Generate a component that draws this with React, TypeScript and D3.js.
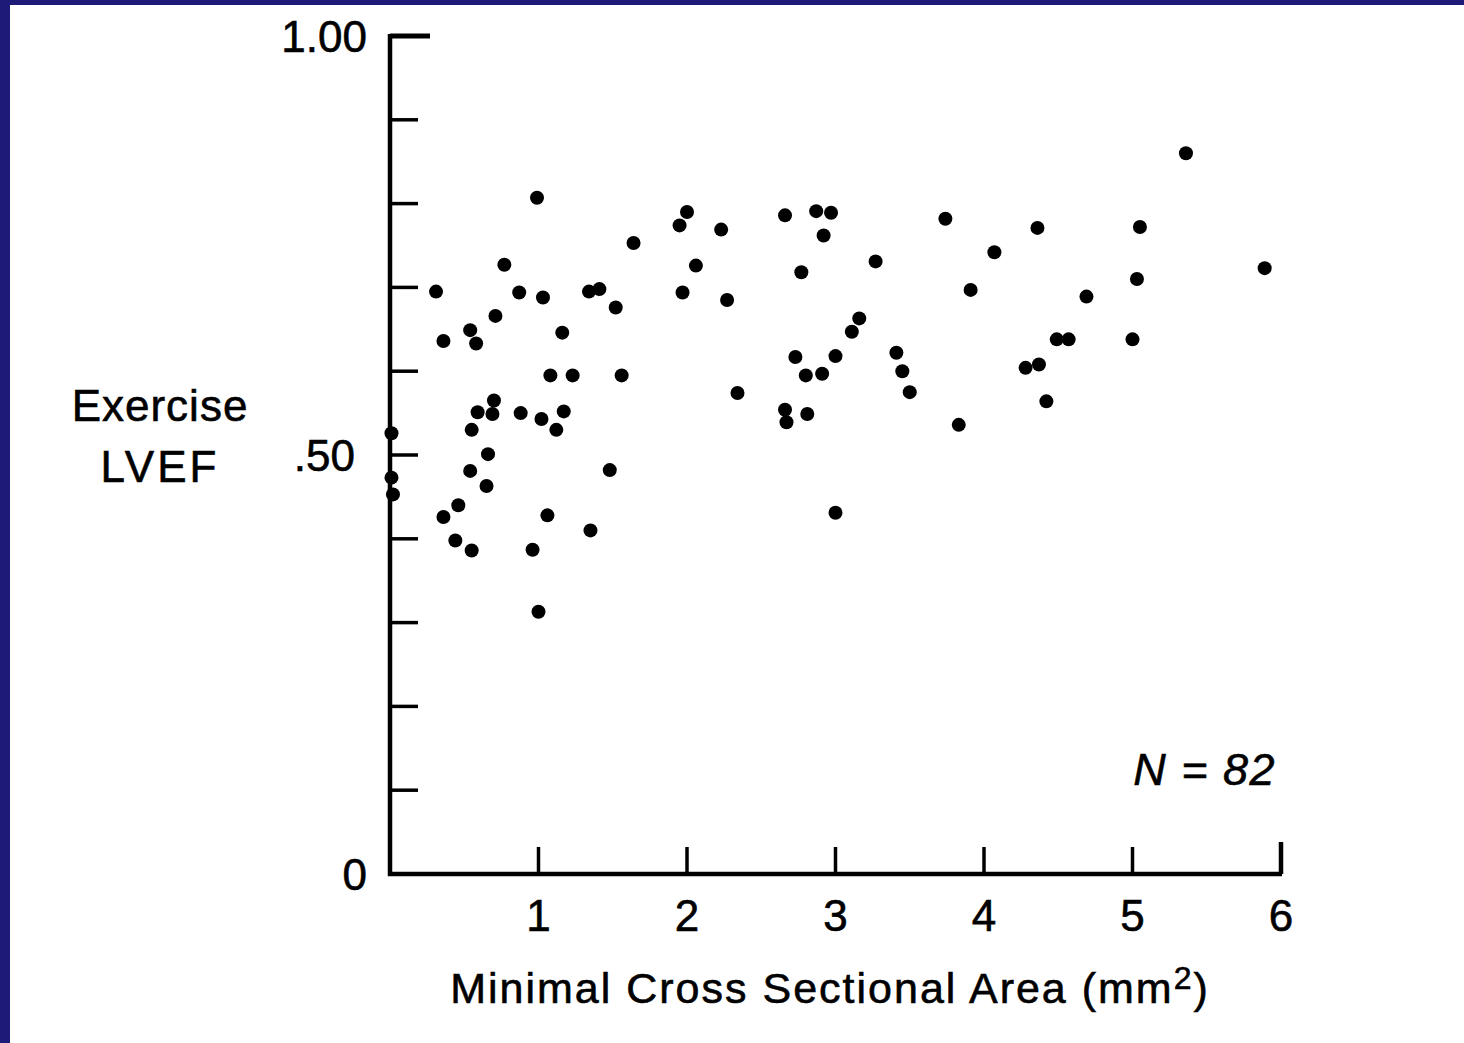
import React from 'react';
import * as d3 from 'd3';

// minimal cross sectional area (mm2) for each patient
const areaValues = [
  0.99, 1.64, 0.77, 0.31, 0.87, 1.03, 1.34, 1.41, 1.52, 0.71, 0.54, 0.36, 0.58, 1.16, 1.08, 1.23, 1.56,
  0.70, 0.59, 0.69, 0.88, 1.02, 1.17, 0.55, 1.12, 0.01, 0.66, 0.54, 1.48, 0.01, 0.65, 0.02, 0.46,
  0.36, 1.06, 1.35, 0.44, 0.55, 0.96, 1.00,
  2.00, 1.95, 2.23, 2.66, 2.87, 2.97, 2.92, 3.74, 2.06, 2.77, 3.27, 1.97, 2.27, 3.16, 3.11, 2.73,
  3.00, 3.41, 2.80, 2.91, 3.45, 2.34, 3.50, 2.66, 2.67, 2.81, 3.83, 3.00,
  5.36, 4.36, 5.05, 4.07, 5.89, 3.91, 5.03, 4.69, 4.49, 4.57, 5.00, 4.28, 4.37, 4.42,
];

// exercise LVEF, same order
const lvefValues = [
  0.807, 0.753, 0.727, 0.695, 0.694, 0.688, 0.695, 0.698, 0.676, 0.666, 0.649, 0.636, 0.633, 0.646, 0.595, 0.595, 0.595,
  0.565, 0.551, 0.549, 0.550, 0.543, 0.552, 0.530, 0.530, 0.526, 0.501, 0.481, 0.482, 0.473, 0.463, 0.453, 0.440,
  0.426, 0.428, 0.410, 0.398, 0.386, 0.387, 0.313,
  0.790, 0.774, 0.769, 0.786, 0.791, 0.789, 0.762, 0.782, 0.726, 0.718, 0.731, 0.694, 0.685, 0.663, 0.647, 0.617,
  0.618, 0.622, 0.595, 0.597, 0.600, 0.574, 0.575, 0.554, 0.539, 0.549, 0.536, 0.431,
  0.860, 0.771, 0.772, 0.742, 0.723, 0.697, 0.710, 0.689, 0.638, 0.638, 0.638, 0.604, 0.608, 0.564,
];

const xTicks = [1, 2, 3, 4, 5, 6];
const yTicks = [0.1, 0.2, 0.3, 0.4, 0.5, 0.6, 0.7, 0.8, 0.9, 1.0];
const yLabels = [
  { value: 0, text: '0' },
  { value: 0.5, text: '.50' },
  { value: 1.0, text: '1.00' },
];

const W = 1464;
const H = 1043;
const NAVY = '#1e1a78';
const FONT = '"Liberation Sans", Arial, Helvetica, sans-serif';

const App = () => {
  const x = d3.scaleLinear().domain([0, 6]).range([390, 1281]);
  const y = d3.scaleLinear().domain([0, 1]).range([874, 36]);

  const points = areaValues.map((a, i) => ({ a, v: lvefValues[i] }));

  return (
    <svg
      width={W}
      height={H}
      style={{ position: 'absolute', left: 0, top: 0, display: 'block' }}
      fontFamily={FONT}
    >
      {/* slide frame */}
      <rect x={0} y={0} width={W} height={H} fill={NAVY} />
      <rect x={10} y={5} width={W - 10} height={H - 5} fill="#fff" />

      {/* axes */}
      <line x1={x(0)} x2={x(0)} y1={y(1) - 2} y2={y(0) + 2} stroke="#000" strokeWidth={4.5} />
      <line x1={x(0) - 2} x2={x(6) + 1} y1={y(0)} y2={y(0)} stroke="#000" strokeWidth={4.5} />

      {yTicks.map(t => (
        <line
          key={'yt' + t}
          x1={x(0)}
          x2={x(0) + (t === 1 ? 40 : 28)}
          y1={y(t)}
          y2={y(t)}
          stroke="#000"
          strokeWidth={t === 1 ? 5 : 3.5}
        />
      ))}

      {xTicks.map(t => (
        <line
          key={'xt' + t}
          x1={x(t)}
          x2={x(t)}
          y1={y(0)}
          y2={y(0) - (t === 6 ? 32 : 27)}
          stroke="#000"
          strokeWidth={t === 6 ? 4.5 : 3.5}
        />
      ))}

      {/* tick labels (the .50 sits a little further left in the original) */}
      {yLabels.map(l => (
        <text
          key={'yl' + l.text}
          x={l.value === 0.5 ? 355 : 367}
          y={y(l.value)}
          dy="0.36em"
          textAnchor="end"
          fontSize={44}
          fill="#000"
          stroke="#000"
          strokeWidth={0.6}
        >
          {l.text}
        </text>
      ))}

      {xTicks.map(t => (
        <text
          key={'xl' + t}
          x={x(t)}
          y={931}
          textAnchor="middle"
          fontSize={44}
          fill="#000"
          stroke="#000"
          strokeWidth={0.6}
        >
          {t}
        </text>
      ))}

      {/* axis titles */}
      <g fill="#000" stroke="#000" strokeWidth={0.6}>
        <text x={160} y={421} textAnchor="middle" fontSize={44} letterSpacing={1}>
          Exercise
        </text>
        <text x={160} y={482} textAnchor="middle" fontSize={44} letterSpacing={3}>
          LVEF
        </text>

        <text x={830} y={1003} textAnchor="middle" fontSize={43} letterSpacing={2}>
          Minimal Cross Sectional Area (mm
          <tspan fontSize={32} dy={-14}>2</tspan>
          <tspan dy={14}>)</tspan>
        </text>

        <text x={1276} y={785} textAnchor="end" fontSize={45} fontStyle="italic" letterSpacing={1.5}>
          N = 82
        </text>
      </g>

      {/* patients */}
      {points.map((p, i) => (
        <circle key={i} cx={x(p.a)} cy={y(p.v)} r={7} fill="#000" />
      ))}
    </svg>
  );
};

export default App;
